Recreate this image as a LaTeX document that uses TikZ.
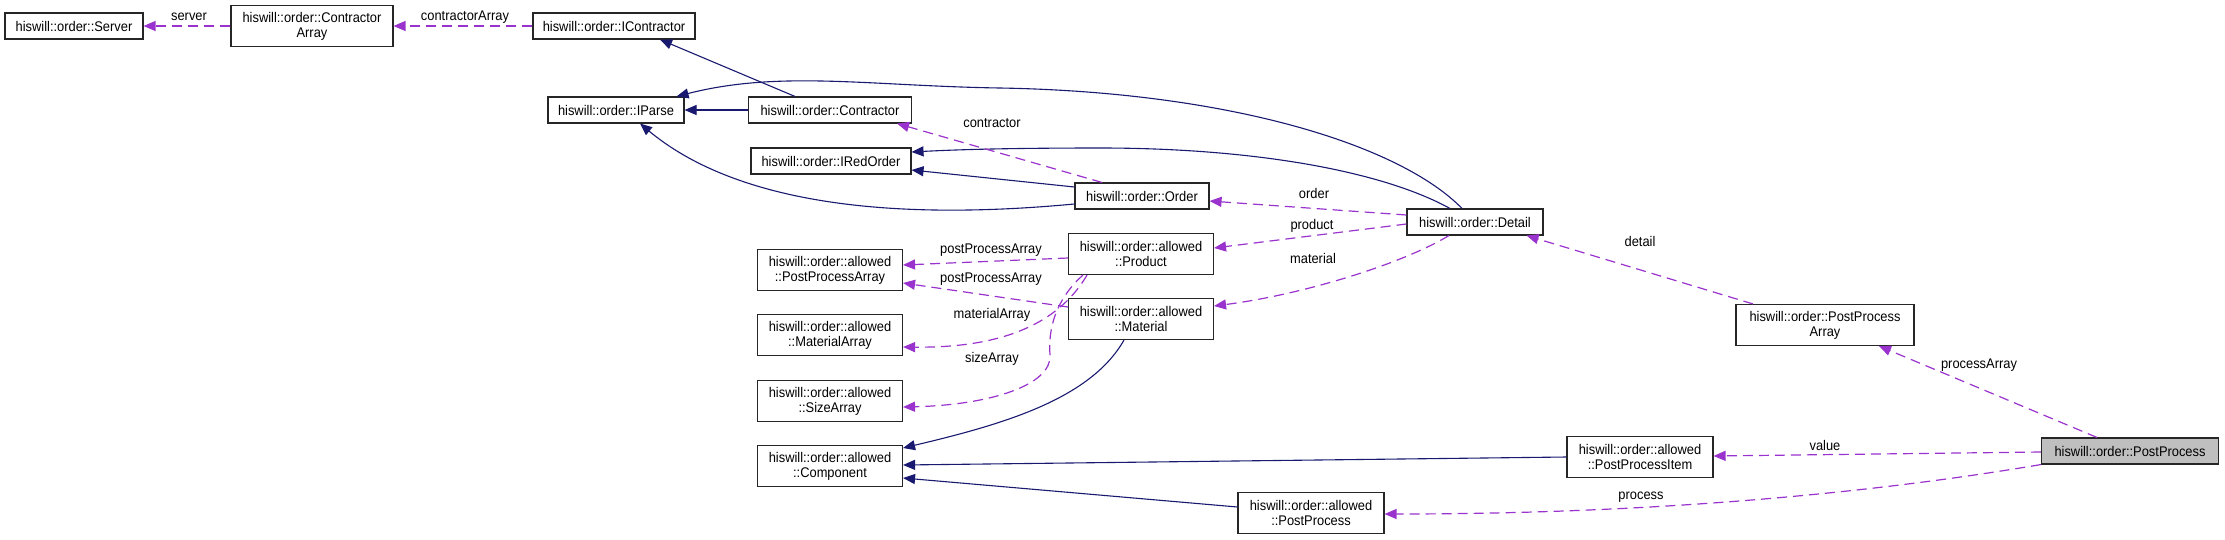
\documentclass[tikz,border=0pt]{standalone}
\usepackage{fontspec}
\setmainfont{Liberation Sans}[FakeStretch=0.92]
\usepackage{xcolor}
\usetikzlibrary{arrows.meta}

\definecolor{inhblue}{HTML}{191970}
\definecolor{usepurple}{HTML}{9A32CD}

\begin{document}
\begin{tikzpicture}[
    x=1pt, y=-1pt,
    box/.style={rectangle, draw=black!85, line width=1.1pt, fill=white,
                minimum height=26pt, inner sep=2pt, align=center,
                font=\fontsize{14}{15}\selectfont},
    two/.style={box, minimum height=41pt},
    focus/.style={box, fill=black!25},
    lbl/.style={inner sep=1pt, font=\fontsize{14}{15}\selectfont},
    inh/.style={-{Triangle[length=12pt,width=10pt]}, draw=inhblue, line width=1.1pt},
    dep/.style={-{Triangle[length=12pt,width=10pt]}, draw=usepurple, line width=1.2pt,
                dash pattern=on 10pt off 6pt}
  ]
  \useasboundingbox (0,0) rectangle (2225,539);

  \node[box, minimum width=138pt] (server) at (74,26) {hiswill::order::Server};
  \node[two, minimum width=162pt] (carray) at (312,26) {hiswill::order::Contractor\\Array};
  \node[box, minimum width=162pt] (icontr) at (614,26) {hiswill::order::IContractor};
  \node[box, minimum width=136pt] (iparse) at (616,110) {hiswill::order::IParse};
  \node[box, minimum width=163pt] (contr) at (830,110) {hiswill::order::Contractor};
  \node[box, minimum width=160pt] (iredord) at (831,161) {hiswill::order::IRedOrder};
  \node[box, minimum width=134pt] (order) at (1142,196) {hiswill::order::Order};
  \node[box, minimum width=136pt] (detail) at (1475,222) {hiswill::order::Detail};
  \node[two, minimum width=145pt] (product) at (1141,254) {hiswill::order::allowed\\::Product};
  \node[two, minimum width=145pt] (material) at (1141,319) {hiswill::order::allowed\\::Material};
  \node[two, minimum width=145pt] (appa) at (830,270) {hiswill::order::allowed\\::PostProcessArray};
  \node[two, minimum width=145pt] (amata) at (830,335) {hiswill::order::allowed\\::MaterialArray};
  \node[two, minimum width=145pt] (asizea) at (830,401) {hiswill::order::allowed\\::SizeArray};
  \node[two, minimum width=145pt] (comp) at (830,466) {hiswill::order::allowed\\::Component};
  \node[two, minimum width=146pt] (app) at (1311,513) {hiswill::order::allowed\\::PostProcess};
  \node[two, minimum width=146pt] (ppitem) at (1640,457) {hiswill::order::allowed\\::PostProcessItem};
  \node[two, minimum width=178pt] (oppa) at (1825,325) {hiswill::order::PostProcess\\Array};
  \node[focus, minimum width=177pt] (pp) at (2130,451) {hiswill::order::PostProcess};

  \node[lbl] (lserver) at (189,17) {server};
  \node[lbl] (lcarray) at (465,17) {contractorArray};
  \node[lbl] (lcontr) at (992,123) {contractor};
  \node[lbl] (lorder) at (1314,193) {order};
  \node[lbl] (lproduct) at (1312,226) {product};
  \node[lbl] (lmaterial) at (1313,258) {material};
  \node[lbl] (lppa1) at (991,250) {postProcessArray};
  \node[lbl] (lppa2) at (991,279) {postProcessArray};
  \node[lbl] (lmata) at (992,315) {materialArray};
  \node[lbl] (lsizea) at (992,359) {sizeArray};
  \node[lbl] (ldetail) at (1640,241) {detail};
  \node[lbl] (lparray) at (1979,365) {processArray};
  \node[lbl] (lvalue) at (1825,445) {value};
  \node[lbl] (lprocess) at (1641,497) {process};

  \draw[inh] ([xshift=-35pt]contr.north) -- ([xshift=46pt]icontr.south);
  \draw[inh] (contr) -- (iparse);
  \draw[inh] ([xshift=-13pt]detail.north) .. controls (1400,145) and (1230,92) .. (1000,88)
    .. controls (870,86) and (780,70) .. ([xshift=-8pt]iparse.north east);
  \draw[inh] ([xshift=-25pt]detail.north) .. controls (1380,170) and (1250,148) .. (1100,148)
    .. controls (1000,148) and (950,150) .. ([yshift=9pt]iredord.east);
  \draw[inh] ([yshift=9pt]order.west) -- ([yshift=-9pt]iredord.east);
  \draw[inh] ([yshift=-8pt]order.west) .. controls (850,225) and (720,190) .. ([xshift=24pt]iparse.south);
  \draw[inh] ([xshift=-17pt]material.south) .. controls (1090,400) and (1000,425) .. ([yshift=18pt]comp.east);
  \draw[inh] (ppitem.west) -- ([yshift=1pt]comp.east);
  \draw[inh] ([yshift=6pt]app.west) -- ([yshift=-12pt]comp.east);

  \draw[dep] (carray) -- (server);
  \draw[dep] (icontr) -- (carray);
  \draw[dep] ([xshift=-40pt]order.north) -- ([xshift=-15pt]contr.south east);
  \draw[dep] ([yshift=7pt]detail.west) -- ([yshift=-5pt]order.east);
  \draw[dep] ([yshift=-2pt]detail.west) -- ([yshift=6pt]product.east);
  \draw[dep] ([xshift=-26pt]detail.south) .. controls (1400,265) and (1300,295) .. ([yshift=13pt]material.east);
  \draw[dep] ([yshift=-4pt]product.west) -- ([yshift=5pt]appa.east);
  \draw[dep] ([yshift=12pt]material.west) -- ([yshift=-13pt]appa.east);
  \draw[dep] ([xshift=-54pt]product.south) .. controls (1055,330) and (990,348) .. ([yshift=-12pt]amata.east);
  \draw[dep] ([xshift=-58pt]product.south) .. controls (1055,300) and (1048,330) .. (1050,355)
    .. controls (1052,385) and (990,405) .. ([yshift=-6pt]asizea.east);
  \draw[dep] ([xshift=-72pt]oppa.north) -- ([xshift=-17pt]detail.south east);
  \draw[dep] ([xshift=-33pt]pp.north) -- ([xshift=54pt]oppa.south);
  \draw[dep] ([yshift=-1pt]pp.west) -- ([yshift=1pt]ppitem.east);
  \draw[dep] (pp.south west) .. controls (1920,485) and (1700,514) .. ([yshift=-1pt]app.east);

\end{tikzpicture}
\end{document}
